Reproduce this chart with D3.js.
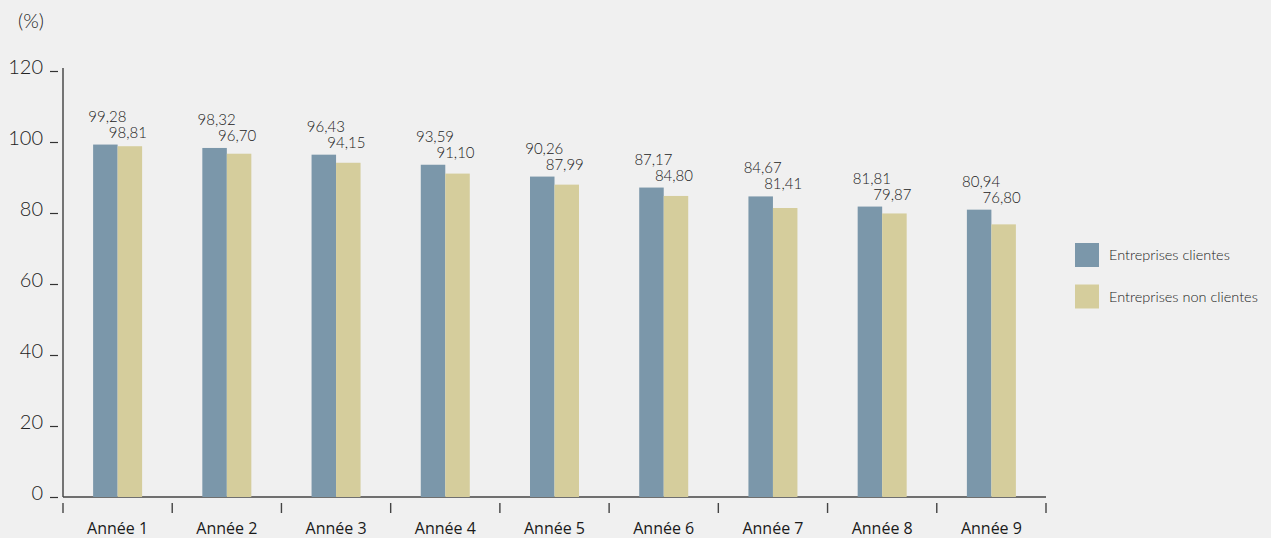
<!DOCTYPE html>
<html><head><meta charset="utf-8">
<script src="https://cdn.jsdelivr.net/npm/d3@7"></script>
<style>
html,body{margin:0;padding:0;background:#f0f0f0;}
svg{display:block;}
</style></head>
<body>
<script>
const categories = ["Année 1","Année 2","Année 3","Année 4","Année 5","Année 6","Année 7","Année 8","Année 9"];
const seriesNames = ["Entreprises clientes","Entreprises non clientes"];
const clientes = [99.28,98.32,96.43,93.59,90.26,87.17,84.67,81.81,80.94];
const nonClientes = [98.81,96.70,94.15,91.10,87.99,84.80,81.41,79.87,76.80];
const yTicks = [0,20,40,60,80,100,120];
const colors = ["#7b97aa","#d5cd9c"];

const W=1271,H=538;
const svg=d3.select("body").append("svg").attr("width",W).attr("height",H);
svg.append("rect").attr("width",W).attr("height",H).attr("fill","#f0f0f0");

const mLeft=63,mRight=1046,mBottom=497,mTop=68;
const x=d3.scaleBand().domain(categories).range([mLeft,mRight]).paddingInner(0).paddingOuter(0);
const y=d3.scaleLinear().domain([0,120]).range([mBottom,71]);
const barW=24.5;
const fmt=v=>v.toFixed(2).replace(".",",");
const font="Lato, 'Open Sans', sans-serif";

// y axis
const ya=svg.append("g").attr("transform",`translate(${mLeft},0)`)
  .call(d3.axisLeft(y).tickValues(yTicks).tickSize(0).tickPadding(20));
ya.select(".domain").remove();
ya.selectAll(".tick text").attr("font-family",font).attr("font-weight",300).attr("font-size",20).attr("fill","#222").attr("dy","0.1em");
ya.selectAll(".tick").append("line").attr("x1",-13).attr("x2",-5).attr("stroke","#333").attr("stroke-width",1.2);
svg.append("line").attr("x1",mLeft).attr("x2",mLeft).attr("y1",mTop).attr("y2",mBottom).attr("stroke","#555").attr("stroke-width",1.6);

// x axis
const xa=svg.append("g").attr("transform",`translate(0,${mBottom})`)
  .call(d3.axisBottom(x).tickSize(0));
xa.select(".domain").remove();
xa.selectAll(".tick text").attr("y",36.5).attr("dy",0).attr("font-family","'Open Sans', sans-serif").attr("font-size",16).attr("fill","#1a1a1a");
svg.append("line").attr("x1",mLeft).attr("x2",mRight).attr("y1",mBottom).attr("y2",mBottom).attr("stroke","#444").attr("stroke-width",1.6);
const bounds=categories.map(c=>x(c)).concat([x(categories[categories.length-1])+x.bandwidth()]);
svg.selectAll(".xt").data(bounds).enter().append("line")
  .attr("x1",d=>d).attr("x2",d=>d).attr("y1",503).attr("y2",513).attr("stroke","#444").attr("stroke-width",1.4);

// bars
const g=svg.append("g");
categories.forEach((c,i)=>{
  const cx=x(c)+x.bandwidth()/2;
  const vals=[clientes[i],nonClientes[i]];
  vals.forEach((v,j)=>{
    const bx=cx-barW+j*barW;
    g.append("rect").attr("x",bx).attr("y",y(v)).attr("width",barW).attr("height",y(0)-y(v)).attr("fill",colors[j]);
  });
  const ly=y(clientes[i])-23;
  g.append("text").attr("x",cx-barW/2+2).attr("y",ly).attr("text-anchor","middle")
   .attr("font-family",font).attr("font-weight",300).attr("font-size",15).attr("fill","#222").text(fmt(clientes[i]));
  g.append("text").attr("x",cx+barW/2-2).attr("y",ly+16).attr("text-anchor","middle")
   .attr("font-family",font).attr("font-weight",300).attr("font-size",15).attr("fill","#222").text(fmt(nonClientes[i]));
});

// unit
svg.append("text").attr("x",18).attr("y",28).attr("font-family",font).attr("font-weight",300).attr("font-size",20).attr("fill","#222").text("(%)");

// legend
const lg=svg.append("g");
seriesNames.forEach((n,i)=>{
  const ty=243+i*41.5;
  lg.append("rect").attr("x",1075).attr("y",ty).attr("width",24).attr("height",24).attr("fill",colors[i]);
  lg.append("text").attr("x",1109).attr("y",ty+17).attr("font-family",font).attr("font-weight",300).attr("font-size",14.5).attr("fill","#222").text(n);
});
</script>
</body></html>
